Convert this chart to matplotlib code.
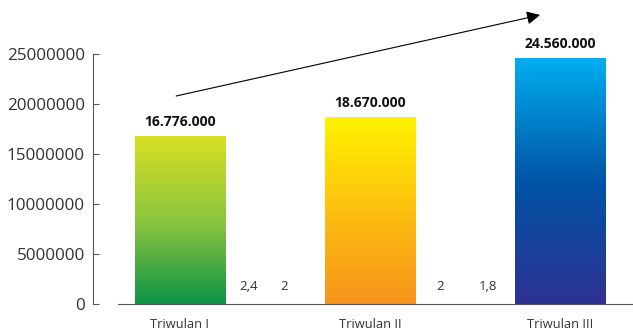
import numpy as np
import matplotlib
matplotlib.use("Agg")
import matplotlib.pyplot as plt
from matplotlib.colors import LinearSegmentedColormap

plt.rcParams['font.family'] = ['Open Sans', 'DejaVu Sans']

# data
categories = ["Triwulan I", "Triwulan II", "Triwulan III"]
values = [16776000, 18670000, 24560000]
value_labels = ["16.776.000", "18.670.000", "24.560.000"]

# small numbers between the bars
small_labels = ["2,4", "2", "2", "1,8"]
small_x = [0.36, 0.55, 1.37, 1.62]
small_y = [1700000, 1700000, 1700000, 1700000]

# gradient colours, bottom -> top
grad_colors = [
    ["#0e9347", "#8dc63f", "#d7df23"],
    ["#f7941d", "#fdc010", "#fff200"],
    ["#2e3192", "#0054a6", "#00aeef"],
]

fig = plt.figure(figsize=(6.33, 3.32), dpi=100)
ax = fig.add_axes([118 / 633, 28 / 332, 1 - 118 / 633, 304 / 332])

x = np.arange(len(categories))
bars = ax.bar(x, values, width=0.475, color="none", edgecolor="none", zorder=2)

grad = np.linspace(0, 1, 256).reshape(-1, 1)
for b, cols in zip(bars, grad_colors):
    cmap = LinearSegmentedColormap.from_list("g", cols)
    x0, y0 = b.get_x(), b.get_y()
    w, h = b.get_width(), b.get_height()
    im = ax.imshow(grad, cmap=cmap, origin="lower", aspect="auto",
                   extent=(x0, x0 + w, y0, y0 + h), zorder=2)
    im.set_clip_path(b)

for xi, v, lab in zip(x, values, value_labels):
    ax.text(xi, v + 700000, lab, ha="center", va="bottom", fontsize=10,
            fontweight="bold", color="#111111")

for sx, sy, s in zip(small_x, small_y, small_labels):
    ax.text(sx, sy, s, ha="center", va="center", fontsize=9.5, color="#333333")

# trend arrow
ax.annotate("", xy=(1.895, 28900000), xytext=(-0.02, 20800000),
            arrowprops=dict(arrowstyle="-|>", mutation_scale=20, lw=0.8,
                            color="black", shrinkA=0, shrinkB=0),
            annotation_clip=False)

ax.set_xlim(-0.326, 2.384)
ax.set_ylim(0, 30400000)
ax.set_yticks(np.arange(0, 25000001, 5000000))
ax.set_yticklabels([str(int(t)) for t in np.arange(0, 25000001, 5000000)])
ax.set_xticks(x)
ax.set_xticklabels(categories)

ax.spines['top'].set_visible(False)
ax.spines['right'].set_visible(False)
ax.spines['left'].set_position(('outward', 18))
ax.spines['left'].set_bounds(0, 25000000)
ax.spines['left'].set_color("#555555")
ax.spines['bottom'].set_color("#555555")
ax.spines['left'].set_linewidth(0.8)
ax.spines['bottom'].set_linewidth(0.8)

ax.tick_params(axis='y', direction='in', length=4, width=0.8, color="#555555",
               labelsize=12.3, labelcolor="#333333", pad=6)
ax.tick_params(axis='x', length=0, labelsize=9.3, labelcolor="#333333", pad=10)

fig.savefig("out.png", dpi=100)
